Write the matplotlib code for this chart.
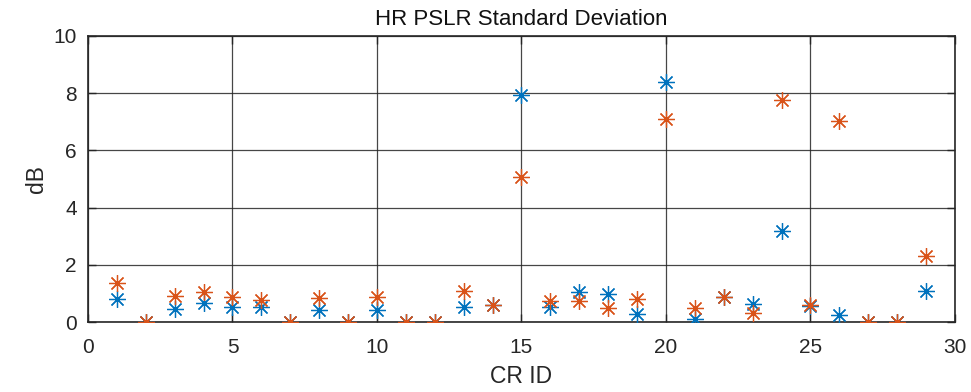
import matplotlib.pyplot as plt

# CR IDs and the two standard deviation series (dB)
crId = list(range(1, 30))
stdBlue = [0.81, 0.00, 0.46, 0.69, 0.53, 0.54, 0.00, 0.44, 0.00, 0.43,
           0.00, 0.00, 0.54, 0.59, 7.94, 0.54, 1.05, 0.99, 0.28, 8.39,
           0.12, 0.90, 0.64, 3.19, 0.56, 0.25, 0.00, 0.00, 1.08]
stdOrange = [1.36, 0.00, 0.93, 1.07, 0.89, 0.77, 0.00, 0.86, 0.00, 0.87,
             0.00, 0.00, 1.10, 0.59, 5.08, 0.75, 0.73, 0.51, 0.80, 7.09,
             0.49, 0.87, 0.31, 7.75, 0.61, 7.04, 0.00, 0.00, 2.33]

xTicks = [0, 5, 10, 15, 20, 25, 30]
yTicks = [0, 2, 4, 6, 8, 10]

plt.rcParams['font.family'] = ['Liberation Sans', 'DejaVu Sans']

fig = plt.figure(figsize=(9.71, 3.92), dpi=100)
ax = fig.add_axes([0.0906, 0.1778, 0.8929, 0.7311])

# MATLAB style asterisk markers
star = (8, 2, 0)
ax.plot(crId, stdBlue, linestyle='none', marker=star, markersize=12,
        markeredgewidth=0.9, color='#0072BD', zorder=3)
ax.plot(crId, stdOrange, linestyle='none', marker=star, markersize=12,
        markeredgewidth=0.9, color='#D95319', zorder=4)

ax.set_xlim(0, 30)
ax.set_ylim(0, 10)
ax.set_xticks(xTicks)
ax.set_yticks(yTicks)
ax.grid(True, color='#262626', linewidth=0.9, alpha=0.85)
ax.set_axisbelow(True)

for s in ax.spines.values():
    s.set_color('#262626')
    s.set_linewidth(1.2)
ax.tick_params(direction='in', length=6, width=1, colors='#262626',
               labelsize=15, top=True, right=True)
ax.tick_params(axis='x', pad=11)
ax.tick_params(axis='y', pad=8)

ax.set_title('HR PSLR Standard Deviation', fontsize=16, color='#111111', pad=8)
ax.set_xlabel('CR ID', fontsize=16.5, color='#262626', labelpad=6)
ax.set_ylabel('dB', fontsize=16.5, color='#262626', labelpad=4)

fig.savefig('out.png', dpi=100)
